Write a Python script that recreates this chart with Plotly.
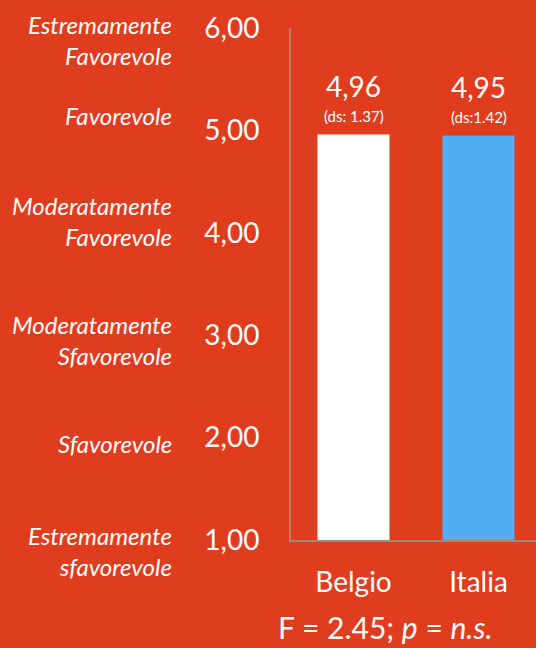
import plotly.graph_objects as go

categories = ["Belgio", "Italia"]
means = [4.96, 4.95]
mean_labels = ["4,96", "4,95"]
sd_labels = ["(ds: 1.37)", "(ds:1.42)"]
bar_colors = ["#FFFFFF", "#4FAEF2"]
tick_vals = [1, 2, 3, 4, 5, 6]
tick_text = ["1,00", "2,00", "3,00", "4,00", "5,00", "6,00"]
scale_labels = ["Estremamente<br>sfavorevole", "Sfavorevole", "Moderatamente<br>Sfavorevole",
                "Moderatamente<br>Favorevole", "Favorevole", "Estremamente<br>Favorevole"]
stat_text = "F = 2.45; <i>p</i> = <i>n.s.</i>"

BG = "#E03C1E"
AXIS = "#A8867C"
FONT = "Lato"

fig = go.Figure(go.Bar(
    x=categories, y=[m - 1 for m in means], base=1,
    marker=dict(color=bar_colors, line=dict(width=0)),
    width=0.576, hoverinfo="skip",
))

# value labels
for c, m, ml, sl in zip(categories, means, mean_labels, sd_labels):
    fig.add_annotation(x=c, y=m, text=ml, showarrow=False, yanchor="bottom",
                       yshift=30, font=dict(size=28, color="white", family=FONT))
    fig.add_annotation(x=c, y=m, text=sl, showarrow=False, yanchor="bottom",
                       yshift=8, font=dict(size=15, color="white", family=FONT))

# scale labels on the left (pixel offsets relative to ticks)
label_shift = [-11, -6, -5, 12, 15, -12]
for v, lab, sh in zip(tick_vals, scale_labels, label_shift):
    fig.add_annotation(xref="paper", yref="y", x=0, y=v, xshift=-117, yshift=sh,
                       text=f"<i>{lab}</i>", showarrow=False, xanchor="right", yanchor="middle",
                       align="right", font=dict(size=24, color="white", family=FONT))

fig.add_annotation(xref="paper", yref="paper", x=0.385, y=0, yshift=-107,
                   xanchor="center", yanchor="bottom", text=stat_text, showarrow=False,
                   font=dict(size=30, color="white", family=FONT))

fig.update_layout(
    width=536, height=648,
    margin=dict(l=291, r=0, t=28, b=108),
    paper_bgcolor=BG, plot_bgcolor=BG,
    showlegend=False,
    xaxis=dict(range=[-0.5, 1.46], showline=True, linecolor=AXIS, linewidth=2,
               showgrid=False, zeroline=False, ticks="", ticklabelstandoff=16,
               tickfont=dict(size=28, color="white", family=FONT), fixedrange=True),
    yaxis=dict(range=[1, 6], showline=True, linecolor=AXIS, linewidth=2,
               showgrid=False, zeroline=False, ticks="", tickvals=tick_vals, ticktext=tick_text,
               ticklabelstandoff=24,
               tickfont=dict(size=28, color="white", family=FONT), fixedrange=True),
)

fig.write_html("out.html", config={"displayModeBar": False},
               post_script="document.body.style.margin='0';document.body.style.background='" + BG + "';")
